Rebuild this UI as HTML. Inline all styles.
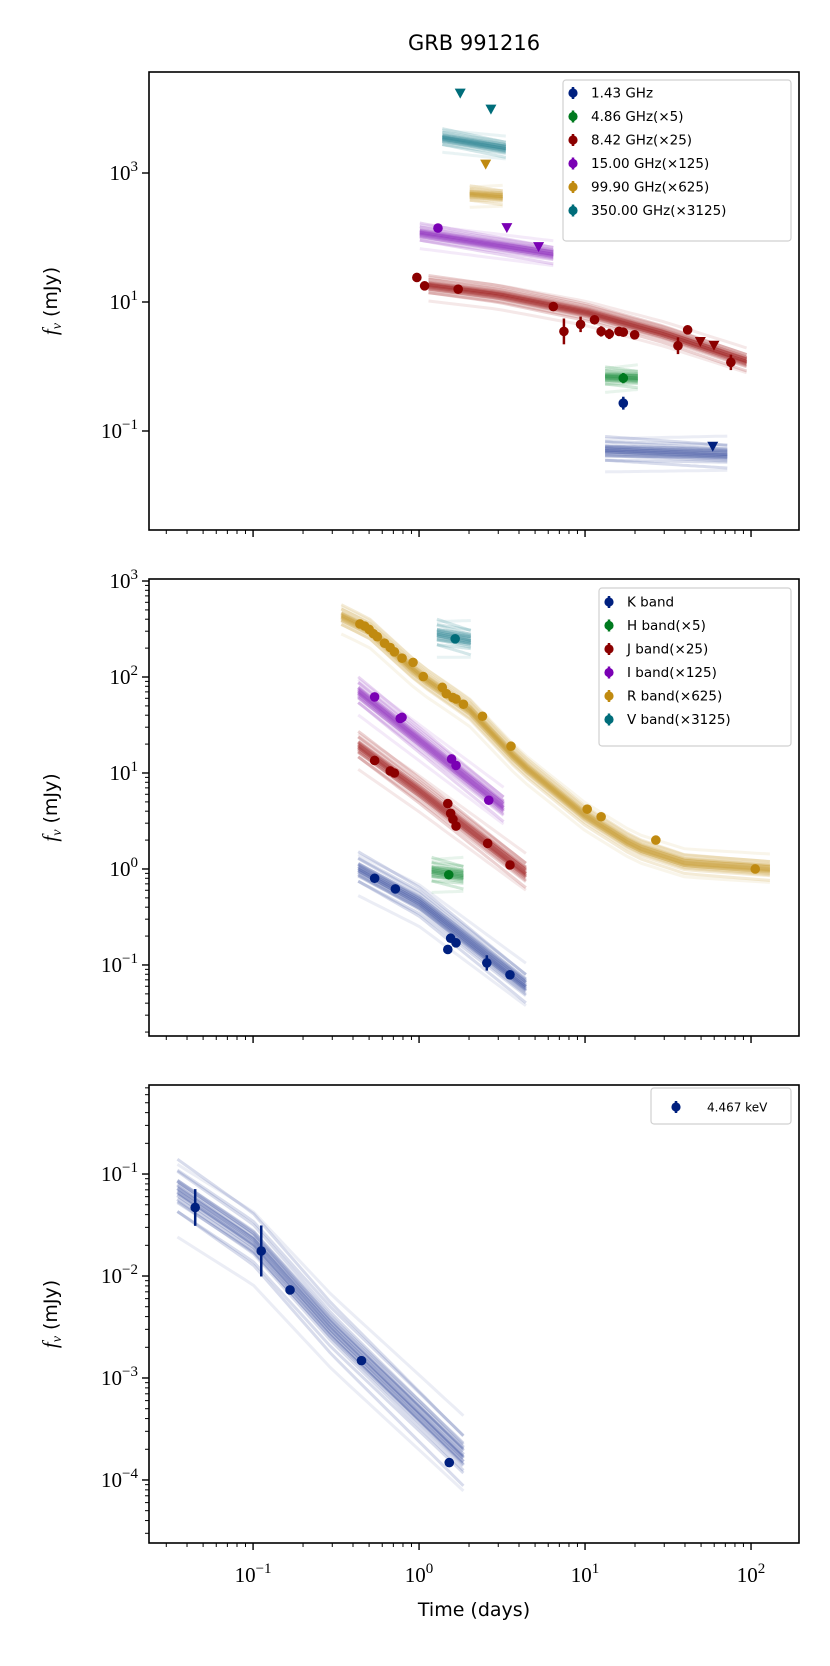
<!DOCTYPE html>
<html><head><meta charset="utf-8"><style>
html,body{margin:0;padding:0;background:#fff}
svg text{font-family:"DejaVu Sans","Liberation Sans",sans-serif}
.tk{font-family:"Liberation Serif","DejaVu Serif",serif;font-size:21px}
</style></head><body>
<svg id="fig" xmlns="http://www.w3.org/2000/svg" width="830" height="1661" viewBox="0 0 830 1661">
<text x="474" y="50" text-anchor="middle" font-size="21">GRB 991216</text>
<text x="474" y="1616" text-anchor="middle" font-size="19">Time (days)</text>
</svg>
<script>
// ---------- data ----------
// panel 1 (radio / mm)
const r143_t=[17.0], r143_f=[0.27], r143_ul_t=[58.8], r143_ul_f=[0.057];
const r486_t=[17.0], r486_f=[0.66];
const r842_t=[0.97,1.08,1.72,6.44,7.46,9.4,11.4,12.5,14.0,16.0,17.0,19.9,36.3,41.5,75.6];
const r842_f=[24,17.8,15.8,8.5,3.5,4.5,5.3,3.5,3.2,3.5,3.4,3.1,2.1,3.7,1.16];
const r842_ul_t=[49.5,59.8], r842_ul_f=[2.4,2.1];
const r15_t=[1.30], r15_f=[140], r15_ul_t=[3.38,5.25], r15_ul_f=[140,71];
const r999_ul_t=[2.52], r999_ul_f=[1350];
const r350_ul_t=[1.77,2.71], r350_ul_f=[17000,9600];
// panel 2 (optical / NIR)
const K_t=[0.54,0.72,1.49,1.55,1.67,2.56,3.53], K_f=[0.80,0.62,0.145,0.19,0.17,0.105,0.079];
const H_t=[1.51], H_f=[0.87];
const J_t=[0.54,0.67,0.71,1.49,1.55,1.6,1.67,2.59,3.53], J_f=[13.5,10.5,10.0,4.8,3.8,3.3,2.8,1.85,1.1];
const I_t=[0.54,0.77,0.79,1.57,1.67,2.63], I_f=[62,37,38,14,12,5.2];
const R_t=[0.44,0.47,0.50,0.53,0.56,0.62,0.67,0.71,0.79,0.92,1.06,1.38,1.46,1.6,1.67,1.85,2.41,3.58,10.3,12.5,26.7,106];
const R_f=[357,340,314,283,263,225,203,183,157,142,101,78,67,61,59,52,39,19,4.2,3.5,2.0,1.0];
const V_t=[1.65], V_f=[250];
// panel 3 (X-ray)
const X_t=[0.0448,0.112,0.167,0.45,1.52], X_f=[0.047,0.0176,0.0073,0.00148,0.000148];
const X_err=[0.18,0.25,0.03,0.03,0.03];
// model median anchors (time, flux) per band
const m350_t=[1.38,3.33], m350_f=[3500,2400];
const m999_t=[2.02,3.19], m999_f=[470,430];
const m15_t=[1.01,6.44], m15_f=[117,55];
const m842_t=[1.14,3,10,30,94], m842_f=[18,13,7,3.2,1.2];
const m486_t=[13.2,20.8], m486_f=[0.69,0.66];
const m143_t=[13.2,72], m143_f=[0.05,0.043];
const mR_t=[0.34,0.5,1,2,4,10,20,40,130], mR_f=[430,310,105,46,13,3.6,1.7,1.15,0.99];
const mI_t=[0.43,1,3.23], mI_f=[70,22,4.4];
const mJ_t=[0.43,1,4.4], mJ_f=[19,6.5,0.9];
const mK_t=[0.43,1,4.4], mK_f=[1.0,0.45,0.06];
const mH_t=[1.19,1.85], mH_f=[0.95,0.85];
const mV_t=[1.28,2.05], mV_f=[280,240];
const mX_t=[0.035,0.1,0.3,1,1.85], mX_f=[0.07,0.022,0.003,0.00045,0.00017];
// spread of posterior curves (dex offsets, slope tweaks)
const spreadOff=[-1.6,-1,-0.75,-0.5,-0.35,-0.2,-0.1,0,0.08,0.18,0.3,0.45,0.6,0.8,1,1.3];
const spreadTilt=[0.5,-0.3,0.2,-0.1,0.3,-0.2,0.1,0,-0.15,0.25,-0.05,0.15,-0.25,0.05,-0.4,0.6];
const xTicks=[-1,0,1,2];

// ---------- layout ----------
const NS='http://www.w3.org/2000/svg';
const svg=document.getElementById('fig');
const X0=149,X1=799,LX0=-1.627,LX1=2.289;
const panels=[
 {top:72,bot:530,lt:4.566,lb:-2.535},
 {top:579,bot:1036,lt:3.021,lb:-1.74},
 {top:1085,bot:1543,lt:-0.127,lb:-4.618}];
const C={blue:'#00207f',green:'#007a1f',red:'#8b0000',purple:'#7a00b4',gold:'#c08a10',cyan:'#006d7a'};
function xs(t){return X0+(Math.log10(t)-LX0)/(LX1-LX0)*(X1-X0);}
function ys(p,f){const P=panels[p];return P.top+(P.lt-Math.log10(f))/(P.lt-P.lb)*(P.bot-P.top);}
function mk(tag,attrs,parent){const e=document.createElementNS(NS,tag);for(const k in attrs)e.setAttribute(k,attrs[k]);(parent||svg).appendChild(e);return e;}

const defs=mk('defs',{});
const groups=panels.map((P,i)=>{
 const cp=mk('clipPath',{id:'cp'+i},defs);
 mk('rect',{x:X0,y:P.top,width:X1-X0,height:P.bot-P.top},cp);
 const g=mk('g',{'clip-path':'url(#cp'+i+')'});
 
 
 return g;});

function interpLog(ts,fs,t){
 const lt=Math.log10(t);
 for(let i=0;i<ts.length-1;i++){const a=Math.log10(ts[i]),b=Math.log10(ts[i+1]);
  if(lt<=b||i===ts.length-2){const u=(lt-a)/(b-a);return Math.log10(fs[i])+u*(Math.log10(fs[i+1])-Math.log10(fs[i]));}}
}
function models(p,ts,fs,spread,color,name){
 const g=mk('g',{},groups[p]);
 
 
 const l0=Math.log10(ts[0]),l1=Math.log10(ts[ts.length-1]);
 spreadOff.forEach((o,k)=>{
  let d='';
  for(let s=0;s<=30;s++){
   const lt=l0+(l1-l0)*s/30,t=Math.pow(10,lt);
   const u=s/30-0.5;
   const lf=interpLog(ts,fs,t)+o*spread+spreadTilt[k]*spread*u;
   d+=(s?'L':'M')+xs(t).toFixed(1)+','+ys(p,Math.pow(10,lf)).toFixed(1);
  }
  const pl=mk('path',{d:d,fill:'none',stroke:color,'stroke-width':3,'stroke-opacity':Math.abs(o)>1.1?0.1:0.2},g);
  
  
 });
 for(let k=0;k<6;k++){
  let d='';
  for(let s=0;s<=30;s++){const lt=l0+(l1-l0)*s/30,t=Math.pow(10,lt);
   const lf=interpLog(ts,fs,t)+(k-2.5)*spread*0.14;
   d+=(s?'L':'M')+xs(t).toFixed(1)+','+ys(p,Math.pow(10,lf)).toFixed(1);}
  const pl=mk('path',{d:d,fill:'none',stroke:color,'stroke-width':4,'stroke-opacity':0.25},g);
  
  
 }
}
function points(p,ts,fs,color,name,errs){
 const g=mk('g',{},groups[p]);
 
 
 ts.forEach((t,i)=>{
  const x=xs(t),y=ys(p,fs[i]);
  if(errs&&errs[i]>0.05){
   const ln=mk('line',{x1:x,x2:x,y1:ys(p,fs[i]*Math.pow(10,errs[i])),y2:ys(p,fs[i]/Math.pow(10,errs[i])),stroke:color,'stroke-width':2.5},g);
   
   
  }
  const c=mk('circle',{cx:x,cy:y,r:4.8,fill:color},g);
  
  
 });
}
function uls(p,ts,fs,color,name){
 ts.forEach((t,i)=>{
  const x=xs(t),y=ys(p,fs[i]);
  const tr=mk('path',{d:`M${x-5.5},${y-5}L${x+5.5},${y-5}L${x},${y+5}Z`,fill:color},groups[p]);
  
  
 });
}

models(0,m350_t,m350_f,0.12,'#2a8592','350ghz');
models(0,m999_t,m999_f,0.11,'#c89a30','99ghz');
models(0,m15_t,m15_f,0.13,'#9030c0','15ghz');
models(0,m842_t,m842_f,0.13,'#a02020','8ghz');
models(0,m486_t,m486_f,0.13,'#209040','4ghz');
models(0,m143_t,m143_f,0.18,'#3a50a0','1ghz');
uls(0,r350_ul_t,r350_ul_f,C.cyan,'350ghz');
uls(0,r999_ul_t,r999_ul_f,C.gold,'99ghz');
points(0,r15_t,r15_f,C.purple,'15ghz');uls(0,r15_ul_t,r15_ul_f,C.purple,'15ghz');
points(0,r842_t,r842_f,C.red,'8ghz',[0,0,0,0,0.2,0.12,0,0.08,0.08,0.06,0,0,0.13,0,0.12]);uls(0,r842_ul_t,r842_ul_f,C.red,'8ghz');
points(0,r486_t,r486_f,C.green,'4ghz',[0.08]);
points(0,r143_t,r143_f,C.blue,'1ghz',[0.1]);uls(0,r143_ul_t,r143_ul_f,C.blue,'1ghz');
models(1,mR_t,mR_f,0.1,'#c89a30','r-band');
models(1,mI_t,mI_f,0.13,'#9030c0','i-band');
models(1,mJ_t,mJ_f,0.13,'#a02020','j-band');
models(1,mK_t,mK_f,0.15,'#3a50a0','k-band');
models(1,mH_t,mH_f,0.12,'#209040','h-band');
models(1,mV_t,mV_f,0.13,'#2a8592','v-band');
points(1,K_t,K_f,C.blue,'k-band',[0,0,0,0,0,0.08,0]);
points(1,H_t,H_f,C.green,'h-band');
points(1,J_t,J_f,C.red,'j-band');
points(1,I_t,I_f,C.purple,'i-band');
points(1,R_t,R_f,C.gold,'r-band');
points(1,V_t,V_f,C.cyan,'v-band');
models(2,mX_t,mX_f,0.25,'#3a50a0','xray');
points(2,X_t,X_f,C.blue,'xray',X_err);

// ---------- axes ----------
const ax=mk('g',{});


function tickLabel(x,y,e,anchor,name){
 const t=mk('text',{x:x,y:y,'text-anchor':anchor,class:'tk'},ax);
 
 
 t.appendChild(document.createTextNode('10'));
 const s=mk('tspan',{dy:-9,'font-size':15},t);s.textContent=(e<0?'\u2212':'')+Math.abs(e);
}
panels.forEach((P,i)=>{
 const fr=mk('rect',{x:X0,y:P.top,width:X1-X0,height:P.bot-P.top,fill:'none',stroke:'#000','stroke-width':1.6},ax);
 
 
 for(let d=-2;d<=2;d++)for(let m=1;m<=9;m++){
  const lv=d+Math.log10(m); if(lv<LX0||lv>LX1)continue;
  const x=xs(Math.pow(10,lv)),len=m===1?7:4;
  mk('line',{x1:x,x2:x,y1:P.bot,y2:P.bot+len,stroke:'#000','stroke-width':m===1?1.4:1},ax);
 }
 for(let d=Math.floor(P.lb);d<=Math.ceil(P.lt);d++)for(let m=1;m<=9;m++){
  const lv=d+Math.log10(m); if(lv<P.lb||lv>P.lt)continue;
  if(i===0&&m>1)continue;
  if(i===0&&(d%2===0))continue;
  const y=ys(i,Math.pow(10,lv)),len=m===1?7:4;
  mk('line',{x1:X0-len,x2:X0,y1:y,y2:y,stroke:'#000','stroke-width':m===1?1.4:1},ax);
  if(m===1) tickLabel(X0-11,y+7,d,'end','y-tick-label');
 }
 const yl=mk('text',{x:0,y:0,'font-size':19,'text-anchor':'middle',transform:`translate(57,${(P.top+P.bot)/2}) rotate(-90)`},ax);
 
 
 const it=mk('tspan',{'font-family':'Liberation Serif,serif','font-style':'italic','font-size':21},yl);it.textContent='f';
 const sb=mk('tspan',{'font-family':'Liberation Serif,serif','font-style':'italic','font-size':14,dy:4},yl);sb.textContent='\u03bd';
 const rs=mk('tspan',{dy:-4},yl);rs.textContent=' (mJy)';
});
xTicks.forEach(e=>tickLabel(xs(Math.pow(10,e)),1582,e,'middle','x-tick-label'));

// ---------- legends ----------
function legend(x,y,w,h,mx,tx,y0,dy,labels,colors,fs,name){
 const g=mk('g',{});
 
 
 mk('rect',{x:x,y:y,width:w,height:h,rx:3,fill:'#fff','fill-opacity':0.85,stroke:'#d0d0d0','stroke-width':1.2},g);
 labels.forEach((l,i)=>{
  const yy=y0+i*dy;
  mk('line',{x1:mx,x2:mx,y1:yy-6,y2:yy+6,stroke:colors[i],'stroke-width':2.5},g);
  mk('circle',{cx:mx,cy:yy,r:4.6,fill:colors[i]},g);
  const t=mk('text',{x:tx,y:yy+4.5,'font-size':fs},g);
  
  
  t.textContent=l;
 });
}
legend(563,80,228,161,573,591,93,23.5,['1.43 GHz','4.86 GHz(\u00d75)','8.42 GHz(\u00d725)','15.00 GHz(\u00d7125)','99.90 GHz(\u00d7625)','350.00 GHz(\u00d73125)'],[C.blue,C.green,C.red,C.purple,C.gold,C.cyan],13.5,'legend-radio');
legend(599,588,192,158,609,627,602,23.5,['K band','H band(\u00d75)','J band(\u00d725)','I band(\u00d7125)','R band(\u00d7625)','V band(\u00d73125)'],[C.blue,C.green,C.red,C.purple,C.gold,C.cyan],13.5,'legend-optical');
legend(651,1088,140,36,676,707,1107,0,['4.467 keV'],[C.blue],12,'legend-xray');
</script>
</body></html>
